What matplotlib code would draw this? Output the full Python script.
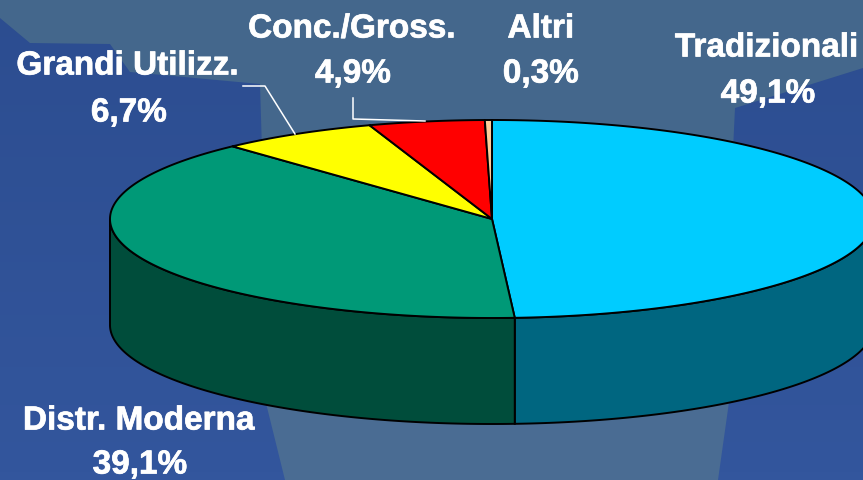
# coding:utf-8
# Torta 3D canali di vendita

import numpy as np
import matplotlib
matplotlib.use("Agg")
import matplotlib.pyplot as plt
import matplotlib.patheffects as pe
from matplotlib.patches import Polygon

# dati
labels = ["Tradizionali", "Distr. Moderna", "Grandi Utilizz.", "Conc./Gross.", "Altri"]
values = [49.1, 39.1, 6.7, 4.9, 0.3]
value_labels = ["49,1%", "39,1%", "6,7%", "4,9%", "0,3%"]
top_colors = ["#00CCFF", "#009977", "#FFFF00", "#FF0000", "#FFCC99"]
side_colors = ["#006680", "#004D3B", "#808000", "#800000", "#806633"]

# geometria della torta, in pixel
cx, cy = 492, 219
rx, ry = 382, 99
depth = 106


def ell(t):
    # t in gradi, in senso orario dalle ore 12
    r = np.radians(t)
    return cx + rx * np.sin(r), cy - ry * np.cos(r)


fig = plt.figure(figsize = (8.63, 4.8), dpi = 100)
ax = fig.add_axes([0, 0, 1, 1])
ax.set_xlim(0, 863)
ax.set_ylim(480, 0)
ax.axis("off")

# sfondo
grad = np.linspace(0, 1, 64).reshape(-1, 1, 1)
c1 = np.array([0x2C, 0x4D, 0x90]) / 255
c2 = np.array([0x33, 0x56, 0x9D]) / 255
ax.imshow(c1 + (c2 - c1) * grad, extent = [0, 863, 480, 0], aspect = "auto", zorder = 0)
top_band = [(0, 0), (863, 0), (863, 68), (735, 108), (733, 150), (262, 150), (260, 84),
            (130, 72), (110, 44), (30, 43), (0, 18)]
ax.add_patch(Polygon(top_band, closed = True, fc = "#44678C", ec = "none", zorder = 1))
low_band = [(264, 395), (730, 395), (718, 480), (285, 480)]
ax.add_patch(Polygon(low_band, closed = True, fc = "#4A6C93", ec = "none", zorder = 1))

# angoli delle fette
total = sum(values)
edges = np.concatenate([[0], np.cumsum(values) / total * 360])

# pareti laterali, solo la metà davanti
for i in range(len(values)):
    a = max(edges[i], 90)
    b = min(edges[i + 1], 270)
    if a >= b:
        continue
    t = np.linspace(a, b, 200)
    x, y = ell(t)
    pts = np.column_stack([np.r_[x, x[::-1]], np.r_[y, y[::-1] + depth]])
    ax.add_patch(Polygon(pts, closed = True, fc = side_colors[i], ec = "black", lw = 1.4, zorder = 2))

# fette superiori
for i in range(len(values)):
    t = np.linspace(edges[i], edges[i + 1], 200)
    x, y = ell(t)
    pts = np.column_stack([np.r_[cx, x], np.r_[cy, y]])
    ax.add_patch(Polygon(pts, closed = True, fc = top_colors[i], ec = "black", lw = 1.4,
                         joinstyle = "round", zorder = 3))

# linee guida
ax.plot([243, 265, 295], [86, 86, 134], color = "white", lw = 1.1, zorder = 4)
ax.plot([353, 353, 425], [98, 119, 121], color = "white", lw = 1.1, zorder = 4)

# etichette
name_pos = [(767, 48), (139, 421), (128, 66), (352, 29), (541, 29)]
value_pos = [(768, 94), (140, 465), (129, 113), (353, 74), (541, 74)]
font = dict(family = "Liberation Sans", weight = "bold", size = 24, color = "white",
            ha = "center", va = "center", zorder = 5,
            path_effects = [pe.withStroke(linewidth = 0.5, foreground = "white")])
for i in range(len(labels)):
    ax.text(name_pos[i][0], name_pos[i][1], labels[i], **font)
    ax.text(value_pos[i][0], value_pos[i][1], value_labels[i], **font)

plt.savefig("out.png", dpi = 100)
plt.close()
